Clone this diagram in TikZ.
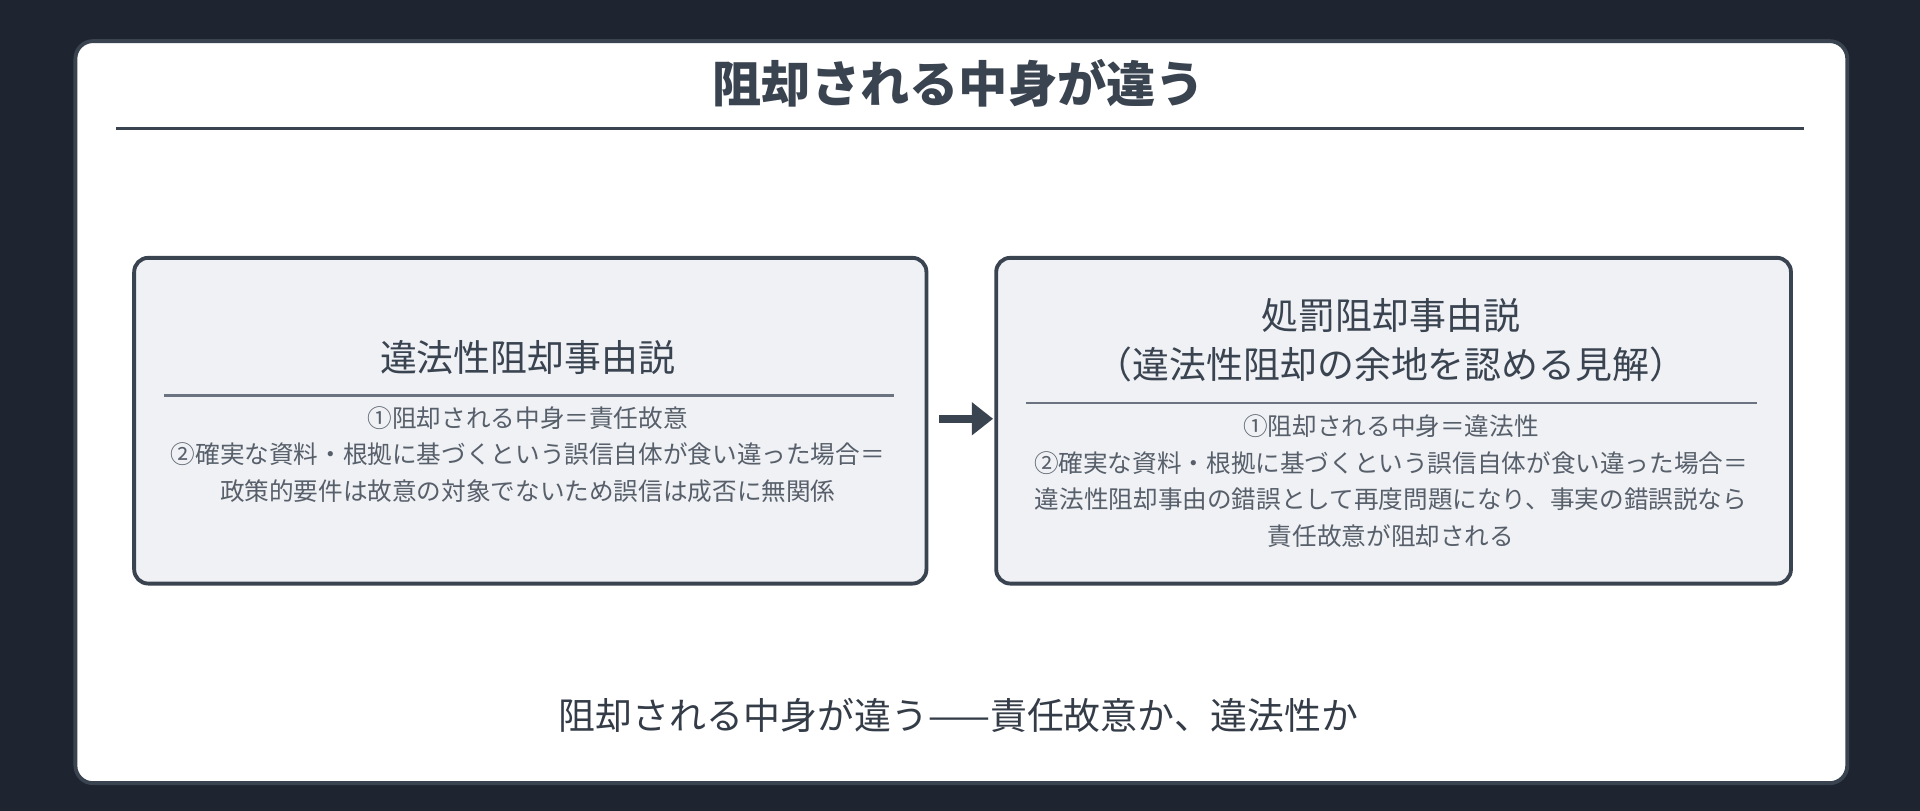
\documentclass[tikz,border=0pt]{standalone}
\usepackage{fontspec}
\setmainfont{Noto Sans CJK JP}
\usetikzlibrary{arrows.meta}
\definecolor{bg}{HTML}{1E2430}
\definecolor{ink}{HTML}{3A4350}
\definecolor{boxf}{HTML}{EFF1F5}
\definecolor{rule}{HTML}{6B7280}
\begin{document}
\begin{tikzpicture}[x=0.012245cm,y=-0.012245cm,
  box/.style={draw=ink,line width=1.1pt,fill=boxf,rounded corners=4pt},
  ttl/.style={text=ink,font=\fontsize{10.5pt}{13pt}\selectfont,align=center},
  body/.style={text=ink!85,font=\fontsize{7pt}{10.4pt}\selectfont,align=center}]
\fill[bg] (0,0) rectangle (1568,662);
\useasboundingbox (0,0) rectangle (1568,662);
\node[draw=ink,line width=1.1pt,fill=white,rounded corners=5pt,minimum width=1447*0.012245cm,minimum height=606*0.012245cm,anchor=north west] (card) at (60,32) {};
\node[text=ink,font=\bfseries\fontsize{14pt}{16pt}\selectfont] (title) at (783,68) {阻却される中身が違う};
\draw[ink,line width=0.7pt] (95,105) coordinate (t1) -- (1473,105) coordinate (t2);
\node[box,minimum width=647*0.012245cm,minimum height=266*0.012245cm,anchor=north west] (L) at (108,209) {};
\node[box,minimum width=649*0.012245cm,minimum height=266*0.012245cm,anchor=north west] (R) at (812,209) {};
\node[ttl] (lt) at (431,292) {違法性阻却事由説};
\draw[rule,line width=0.7pt] (134,323) coordinate (l1) -- (730,323) coordinate (l2);
\node[body] (lb) at (431,371) {①阻却される中身＝責任故意\\②確実な資料・根拠に基づくという誤信自体が食い違った場合＝\\政策的要件は故意の対象でないため誤信は成否に無関係};
\node[ttl,font=\fontsize{10.5pt}{14pt}\selectfont] (rt) at (1136,278) {処罰阻却事由説\\（違法性阻却の余地を認める見解）};
\draw[rule,line width=0.7pt] (838,329) coordinate (r1) -- (1435,329) coordinate (r2);
\node[body] (rb) at (1136,393) {①阻却される中身＝違法性\\②確実な資料・根拠に基づくという誤信自体が食い違った場合＝\\違法性阻却事由の錯誤として再度問題になり、事実の錯誤説なら\\責任故意が阻却される};
\coordinate (a1) at (767,342);
\coordinate (a2) at (811,342);
\draw[ink,line width=2.2pt,-{Triangle[length=6pt,width=9pt]}] (a1) -- (a2);
\node[text=ink!90!black,font=\fontsize{10.5pt}{13pt}\selectfont] (foot) at (783,584) {阻却される中身が違う——責任故意か、違法性か};
\end{tikzpicture}
\end{document}
